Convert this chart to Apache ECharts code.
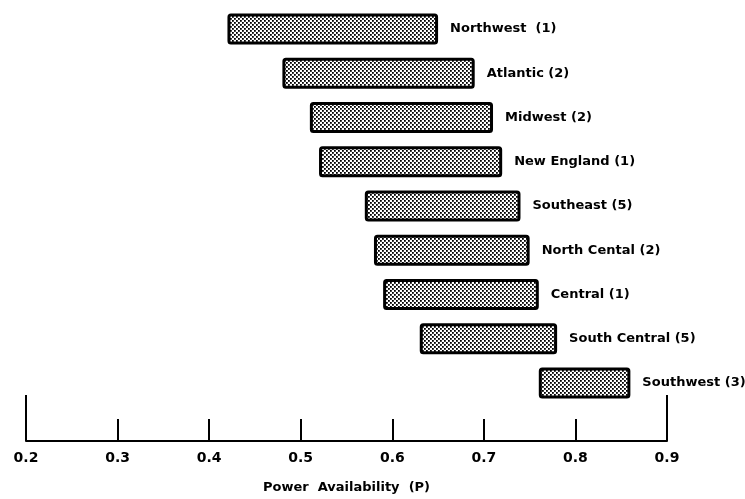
<!DOCTYPE html>
<html>
<head>
<meta charset="utf-8">
<script src="https://cdn.jsdelivr.net/npm/echarts@6/dist/echarts.min.js"></script>
<style>
  html, body { margin: 0; padding: 0; background: #fff; }
  #chart { width: 745px; height: 499px; }
</style>
</head>
<body>
<div id="chart"></div>
<script>
// regions, top to bottom, with the number of systems in brackets
const regions = [
  'Northwest  (1)', 'Atlantic (2)', 'Midwest (2)', 'New England (1)', 'Southeast (5)',
  'North Cental (2)', 'Central (1)', 'South Central (5)', 'Southwest (3)'
];
const lowValues = [0.42, 0.48, 0.51, 0.52, 0.57, 0.58, 0.59, 0.63, 0.76];
const highValues = [0.65, 0.69, 0.71, 0.72, 0.74, 0.75, 0.76, 0.78, 0.86];
const xTicks = [0.2, 0.3, 0.4, 0.5, 0.6, 0.7, 0.8, 0.9];
const endTicks = [0.2, 0.9];

// small dotted screen like the printed hatch
function dotPattern() {
  const c = document.createElement('canvas');
  c.width = 4;
  c.height = 4;
  const ctx = c.getContext('2d');
  ctx.fillStyle = '#fff';
  ctx.fillRect(0, 0, 4, 4);
  ctx.fillStyle = '#000';
  ctx.fillRect(0, 0, 1.8, 1.8);
  ctx.fillRect(2, 2, 1.8, 1.8);
  return c;
}

const font = '"DejaVu Sans", sans-serif';
const chart = echarts.init(document.getElementById('chart'));

chart.setOption({
  animation: false,
  grid: { left: 26, right: 78, top: 7, bottom: 93 },
  xAxis: [
    {
      type: 'value',
      min: 0.2,
      max: 0.9,
      interval: 0.1,
      offset: 36,
      splitLine: { show: false },
      axisLine: { show: true, lineStyle: { color: '#000', width: 2 } },
      axisTick: { show: true, inside: true, length: 22, customValues: xTicks, lineStyle: { color: '#000', width: 2 } },
      axisLabel: {
        customValues: xTicks,
        margin: 10,
        color: '#000',
        fontFamily: font,
        fontWeight: 'bold',
        fontSize: 14,
        formatter: v => v.toFixed(1)
      },
      name: 'Power  Availability  (P)',
      nameLocation: 'middle',
      nameGap: 40,
      nameTextStyle: { color: '#000', fontFamily: font, fontWeight: 'bold', fontSize: 13 }
    },
    {
      type: 'value',
      min: 0.2,
      max: 0.9,
      position: 'bottom',
      offset: 36,
      splitLine: { show: false },
      axisLine: { show: false },
      axisTick: { show: true, inside: true, length: 46, customValues: endTicks, lineStyle: { color: '#000', width: 2 } },
      axisLabel: { show: false }
    }
  ],
  yAxis: {
    type: 'category',
    data: regions,
    inverse: true,
    show: false
  },
  series: [
    {
      type: 'bar',
      stack: 'range',
      silent: true,
      barWidth: 31,
      data: lowValues,
      itemStyle: { color: 'transparent' }
    },
    {
      type: 'bar',
      stack: 'range',
      barWidth: 31,
      data: highValues.map((h, i) => +(h - lowValues[i]).toFixed(2)),
      itemStyle: {
        color: { image: dotPattern(), repeat: 'repeat' },
        borderColor: '#000',
        borderWidth: 3,
        borderRadius: 2
      },
      label: {
        show: true,
        position: 'right',
        distance: 12,
        formatter: p => p.name,
        color: '#000',
        fontFamily: font,
        fontWeight: 'bold',
        fontSize: 13
      }
    }
  ]
});
</script>
</body>
</html>
